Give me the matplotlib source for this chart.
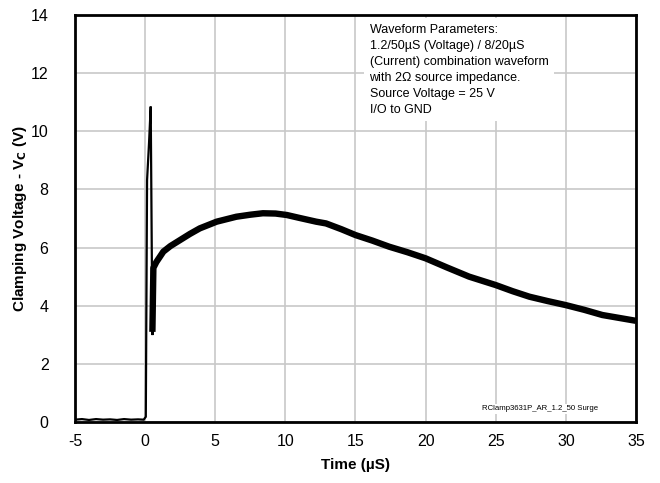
import matplotlib
matplotlib.use("Agg")
from matplotlib import pyplot as plt

plt.rcParams['font.family'] = ['Liberation Sans', 'DejaVu Sans']
plt.rcParams['axes.unicode_minus'] = False

# baseline and surge spike (thin trace)
t_spike = [-5.0, -4.5, -4.0, -3.5, -3.0, -2.5, -2.0, -1.5, -1.0, -0.5, -0.1,
           0.05, 0.14, 0.28, 0.40, 0.52, 0.59]
v_spike = [0.08, 0.10, 0.07, 0.10, 0.08, 0.09, 0.07, 0.10, 0.08, 0.09, 0.08,
           0.18, 8.32, 9.59, 10.85, 2.99, 5.30]

# clamping tail (noisy, drawn thick)
t_tail = [0.52, 0.59, 0.8, 1.3, 1.8, 2.5, 3.2, 3.9, 5.1, 6.5, 7.5, 8.4, 9.3,
          10.1, 11.0, 12.2, 12.9, 14.0, 15.0, 16.2, 17.4, 18.7, 20.0, 21.5,
          23.1, 25.0, 26.2, 27.4, 28.7, 30.0, 31.3, 32.6, 33.8, 35.0]
v_tail = [3.1, 5.30, 5.50, 5.86, 6.05, 6.26, 6.47, 6.66, 6.89, 7.06, 7.13,
          7.18, 7.17, 7.12, 7.02, 6.89, 6.83, 6.63, 6.43, 6.24, 6.03, 5.84,
          5.63, 5.32, 5.00, 4.71, 4.50, 4.31, 4.16, 4.02, 3.86, 3.68, 3.58,
          3.48]

x_ticks = [-5, 0, 5, 10, 15, 20, 25, 30, 35]
y_ticks = [0, 2, 4, 6, 8, 10, 12, 14]

note = ("Waveform Parameters:\n"
        "1.2/50\u00b5S (Voltage) / 8/20\u00b5S\n"
        "(Current) combination waveform\n"
        "with 2\u03a9 source impedance.\n"
        "Source Voltage = 25 V\n"
        "I/O to GND")

fig = plt.figure(figsize=(6.6, 4.83), dpi=100)
ax = fig.add_axes([0.1136, 0.1263, 0.8500, 0.8427])

ax.plot(t_spike, v_spike, color='black', lw=1.6, solid_joinstyle='miter')
ax.plot(t_tail, v_tail, color='black', lw=4.6, solid_capstyle='butt')

ax.set_xlim(-5, 35)
ax.set_ylim(0, 14)
ax.set_xticks(x_ticks)
ax.set_yticks(y_ticks)
ax.tick_params(length=0, labelsize=11.5)
ax.tick_params(axis='y', pad=19)
ax.tick_params(axis='x', pad=9)
ax.grid(True, color='#c8c8c8', lw=1.2)
ax.set_axisbelow(True)
for s in ax.spines.values():
    s.set_linewidth(2.0)

ax.set_xlabel('Time (\u00b5S)', fontsize=11, fontweight='bold', labelpad=6)
ax.set_ylabel('Clamping Voltage - V$_\\mathbf{C}$ (V)', fontsize=11,
              fontweight='bold', labelpad=1)

ax.text(16.0, 13.7, note, fontsize=9, va='top', ha='left', linespacing=1.45,
        bbox=dict(facecolor='white', edgecolor='none', pad=4))
ax.text(24.0, 0.45, 'RClamp3631P_AR_1.2_50 Surge', fontsize=5.6,
        va='center', ha='left',
        bbox=dict(facecolor='white', edgecolor='none', pad=1))

fig.savefig('out.png', dpi=100)
